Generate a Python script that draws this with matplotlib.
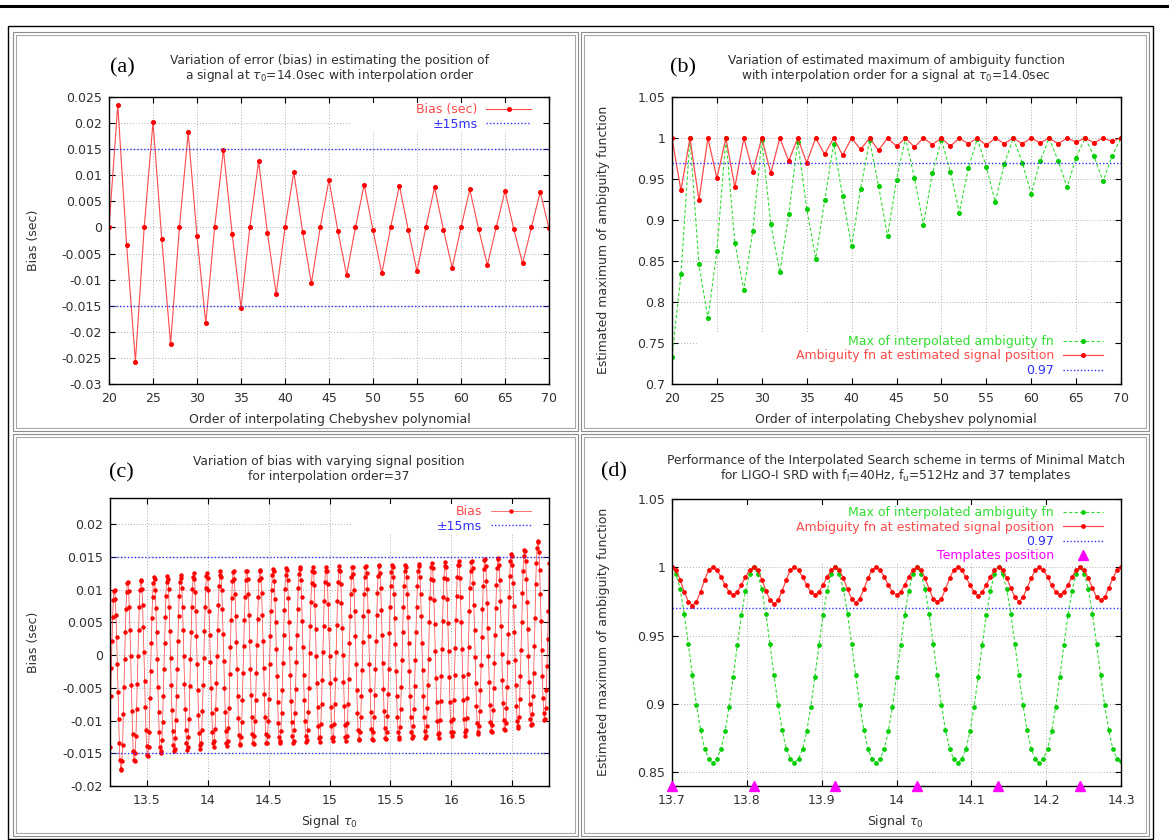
import numpy as np
import matplotlib
matplotlib.use("Agg")
import matplotlib.pyplot as plt
from matplotlib.lines import Line2D
from matplotlib.patches import Rectangle
from matplotlib.ticker import MultipleLocator, FuncFormatter

W, H = 1169, 840

# ── (a) bias vs interpolation order, signal at tau0 = 14.0 s ───────────────
orders = list(range(20, 71))
a_bias = [0.0, 0.0235, -0.0033, -0.0257, 0.0, 0.0202, -0.0023, -0.0223,
          0.0, 0.0182, -0.0017, -0.0184, 0.0, 0.0149, -0.0013, -0.0154,
          0.0, 0.0127, -0.0010, -0.0128, 0.0, 0.0106, -0.0008, -0.0107,
          0.0, 0.0091, -0.0006, -0.0091, 0.0, 0.0082, -0.0005, -0.0088,
          0.0, 0.0080, -0.0004, -0.0084, 0.0, 0.0077, -0.0004, -0.0077,
          0.0, 0.0073, -0.0003, -0.0072, 0.0, 0.0070, -0.0003, -0.0069,
          0.0, 0.0068, -0.0002]

# ── (b) estimated maximum of ambiguity fn vs order ─────────────────────────
b_max_interp = [0.733, 0.834, 1.000, 0.846, 0.780, 0.862, 1.000, 0.872,
                0.815, 0.887, 0.998, 0.895, 0.836, 0.907, 0.995, 0.914,
                0.853, 0.924, 0.993, 0.929, 0.868, 0.938, 0.997, 0.942,
                0.880, 0.949, 1.000, 0.951, 0.894, 0.957, 0.998, 0.959,
                0.909, 0.963, 0.999, 0.965, 0.922, 0.968, 1.000, 0.970,
                0.932, 0.972, 1.000, 0.972, 0.940, 0.976, 1.000, 0.978,
                0.947, 0.978, 1.000]
b_at_estimate = [1.000, 0.936, 1.000, 0.924, 1.000, 0.951, 1.000, 0.940,
                 1.000, 0.959, 1.000, 0.957, 1.000, 0.972, 1.000, 0.970,
                 1.000, 0.980, 1.000, 0.979, 1.000, 0.986, 1.000, 0.985,
                 1.000, 0.990, 1.000, 0.989, 1.000, 0.992, 1.000, 0.990,
                 1.000, 0.993, 1.000, 0.991, 1.000, 0.993, 1.000, 0.993,
                 1.000, 0.994, 1.000, 0.993, 1.000, 0.995, 1.000, 0.994,
                 1.000, 0.996, 1.000]

# ── (c) bias vs signal position, order 37 (values in ms, 20 per template) ──
c_tau = np.linspace(13.2, 16.8, 661)
c_bias_ms = [
    -14.0, -6.2, -1.9, 2.2, 5.8, 8.4, 9.8, 9.9, 8.6, 6.1, 2.7, -1.4, -5.7, -9.8, -13.4, -16.0, -17.4, -17.5, -16.2, -13.7,
    -9.0, -4.9, -0.6, 3.5, 7.0, 9.6, 11.0, 11.1, 9.8, 7.3, 3.9, -0.2, -4.5, -8.6, -12.1, -14.7, -16.1, -16.2, -14.9, -12.4,
    -8.3, -4.4, -0.1, 3.9, 7.4, 9.9, 11.3, 11.4, 10.1, 7.7, 4.3, 0.4, -3.9, -7.9, -11.4, -13.9, -15.3, -15.4, -14.1, -11.7,
    -6.6, -2.5, 1.8, 5.7, 8.8, 11.0, 12.0, 11.6, 10.0, 7.2, 3.6, -0.6, -4.8, -8.7, -11.8, -14.0, -15.0, -14.6, -13.0, -10.2,
    -6.3, -2.2, 1.9, 5.8, 9.0, 11.1, 12.1, 11.7, 10.1, 7.3, 3.7, -0.4, -4.5, -8.4, -11.6, -13.7, -14.7, -14.3, -12.7, -9.9,
    -6.2, -2.1, 2.1, 5.9, 9.1, 11.2, 12.2, 11.8, 10.2, 7.4, 3.9, -0.2, -4.4, -8.2, -11.4, -13.5, -14.5, -14.1, -12.5, -9.7,
    -4.7, -0.6, 3.6, 7.3, 10.1, 12.0, 12.5, 11.7, 9.7, 6.7, 2.9, -1.3, -5.4, -9.1, -11.9, -13.8, -14.3, -13.5, -11.5, -8.5,
    -4.5, -0.4, 3.7, 7.4, 10.3, 12.1, 12.6, 11.8, 9.9, 6.8, 3.1, -1.1, -5.1, -8.8, -11.7, -13.5, -14.0, -13.2, -11.3, -8.2,
    -4.3, -0.2, 3.9, 7.6, 10.5, 12.3, 12.8, 12.0, 10.0, 7.0, 3.2, -0.9, -5.0, -8.7, -11.6, -13.4, -13.9, -13.1, -11.1, -8.1,
    -2.9, 1.3, 5.3, 8.7, 11.3, 12.7, 12.8, 11.6, 9.3, 6.0, 2.0, -2.2, -6.2, -9.6, -12.2, -13.6, -13.7, -12.5, -10.2, -6.9,
    -2.8, 1.4, 5.4, 8.8, 11.4, 12.8, 12.9, 11.7, 9.4, 6.1, 2.1, -2.1, -6.1, -9.5, -12.1, -13.5, -13.6, -12.4, -10.1, -6.8,
    -2.7, 1.5, 5.5, 8.9, 11.5, 12.9, 13.0, 11.8, 9.5, 6.2, 2.2, -2.0, -6.0, -9.4, -12.0, -13.4, -13.5, -12.3, -10.0, -6.7,
    -1.3, 2.9, 6.8, 10.0, 12.2, 13.2, 12.9, 11.3, 8.6, 5.0, 1.0, -3.2, -7.1, -10.3, -12.5, -13.5, -13.2, -11.6, -8.9, -5.3,
    -1.2, 3.0, 6.9, 10.1, 12.3, 13.3, 13.0, 11.4, 8.7, 5.1, 1.1, -3.1, -7.0, -10.2, -12.4, -13.4, -13.1, -11.5, -8.8, -5.2,
    -1.1, 3.1, 7.0, 10.2, 12.4, 13.4, 13.1, 11.5, 8.8, 5.2, 1.2, -3.0, -6.9, -10.1, -12.3, -13.3, -13.0, -11.4, -8.7, -5.1,
    0.3, 4.4, 8.1, 11.0, 12.8, 13.4, 12.7, 10.7, 7.7, 4.0, -0.2, -4.3, -8.0, -10.9, -12.7, -13.3, -12.5, -10.5, -7.5, -3.8,
    0.4, 4.5, 8.2, 11.1, 12.9, 13.5, 12.8, 10.8, 7.8, 4.0, -0.1, -4.2, -7.9, -10.8, -12.6, -13.2, -12.5, -10.5, -7.5, -3.7,
    0.5, 4.6, 8.3, 11.2, 13.0, 13.6, 12.9, 10.9, 7.9, 4.1, 0.0, -4.1, -7.8, -10.7, -12.5, -13.1, -12.4, -10.4, -7.4, -3.6,
    1.9, 5.9, 9.4, 11.9, 13.4, 13.5, 12.4, 10.0, 6.8, 2.9, -1.3, -5.3, -8.8, -11.4, -12.8, -13.0, -11.8, -9.5, -6.2, -2.3,
    2.0, 6.0, 9.4, 12.0, 13.5, 13.6, 12.5, 10.1, 6.8, 2.9, -1.3, -5.3, -8.7, -11.3, -12.8, -12.9, -11.8, -9.4, -6.1, -2.2,
    2.1, 6.1, 9.5, 12.1, 13.6, 13.7, 12.6, 10.2, 6.9, 3.0, -1.2, -5.2, -8.6, -11.2, -12.7, -12.8, -11.7, -9.3, -6.0, -2.1,
    3.4, 7.3, 10.5, 12.7, 13.8, 13.5, 11.9, 9.3, 5.7, 1.7, -2.5, -6.3, -9.5, -11.8, -12.8, -12.5, -11.0, -8.3, -4.8, -0.7,
    3.5, 7.4, 10.6, 12.8, 13.8, 13.5, 12.0, 9.3, 5.8, 1.8, -2.4, -6.3, -9.5, -11.7, -12.7, -12.4, -10.9, -8.2, -4.7, -0.7,
    3.6, 7.4, 10.6, 12.8, 13.9, 13.6, 12.0, 9.4, 5.9, 1.8, -2.3, -6.2, -9.4, -11.6, -12.6, -12.3, -10.8, -8.1, -4.6, -0.6,
    5.0, 8.7, 11.6, 13.4, 14.0, 13.3, 11.4, 8.4, 4.7, 0.6, -3.5, -7.2, -10.1, -12.0, -12.6, -11.9, -9.9, -7.0, -3.2, 0.9,
    5.2, 8.9, 11.8, 13.6, 14.2, 13.5, 11.6, 8.6, 4.9, 0.7, -3.4, -7.1, -10.0, -11.8, -12.4, -11.7, -9.8, -6.8, -3.1, 1.1,
    5.4, 9.1, 12.0, 13.8, 14.4, 13.7, 11.8, 8.8, 5.0, 0.9, -3.2, -6.9, -9.8, -11.7, -12.3, -11.5, -9.6, -6.6, -2.9, 1.2,
    6.7, 10.2, 12.8, 14.2, 14.4, 13.3, 11.0, 7.7, 3.9, -0.3, -4.3, -7.8, -10.4, -11.8, -12.0, -10.9, -8.6, -5.3, -1.5, 2.7,
    7.0, 10.5, 13.1, 14.5, 14.7, 13.6, 11.3, 8.0, 4.1, -0.1, -4.1, -7.6, -10.2, -11.6, -11.8, -10.7, -8.4, -5.1, -1.2, 3.0,
    7.2, 10.7, 13.3, 14.7, 14.9, 13.8, 11.5, 8.2, 4.4, 0.2, -3.8, -7.3, -9.9, -11.3, -11.5, -10.4, -8.1, -4.8, -1.0, 3.2,
    8.9, 12.1, 14.4, 15.4, 15.2, 13.7, 11.0, 7.5, 3.5, -0.7, -4.6, -7.8, -10.1, -11.1, -10.9, -9.4, -6.7, -3.2, 0.8, 5.0,
    9.5, 12.8, 15.1, 16.1, 15.9, 14.4, 11.7, 8.1, 4.0, -0.2, -4.1, -7.4, -9.7, -10.7, -10.5, -9.0, -6.3, -2.7, 1.4, 5.6,
    10.8, 14.1, 16.4, 17.5, 17.3, 15.7, 13.0, 9.3, 5.2, 0.8, -3.2, -6.5, -8.8, -9.9, -9.7, -8.1, -5.4, -1.7, 2.5, 6.8,
    14.0,
]
c_bias = np.array(c_bias_ms) / 1000.0

# ── (d) minimal-match performance, 37 templates ────────────────────────────
d_tau = np.linspace(13.7, 14.3, 111)
d_max_interp = [
    1.000, 0.995, 0.984, 0.966, 0.944, 0.921, 0.899, 0.881, 0.867, 0.860,
    0.857, 0.860, 0.867, 0.880, 0.898, 0.920, 0.943, 0.965, 0.983, 0.995,
    1.000, 0.995, 0.984, 0.966, 0.944, 0.921, 0.899, 0.881, 0.867, 0.860,
    0.857, 0.860, 0.867, 0.880, 0.898, 0.920, 0.943, 0.965, 0.983, 0.995,
    1.000, 0.995, 0.984, 0.966, 0.944, 0.921, 0.899, 0.881, 0.867, 0.860,
    0.857, 0.860, 0.867, 0.880, 0.898, 0.920, 0.943, 0.965, 0.983, 0.995,
    1.000, 0.995, 0.984, 0.966, 0.944, 0.921, 0.899, 0.881, 0.867, 0.860,
    0.857, 0.860, 0.867, 0.880, 0.898, 0.920, 0.943, 0.965, 0.983, 0.995,
    1.000, 0.995, 0.984, 0.966, 0.944, 0.921, 0.899, 0.881, 0.867, 0.860,
    0.857, 0.860, 0.867, 0.880, 0.898, 0.920, 0.943, 0.965, 0.983, 0.995,
    1.000, 0.995, 0.984, 0.966, 0.944, 0.921, 0.899, 0.881, 0.867, 0.860,
    0.858,
]
d_at_estimate = [
    1.000, 0.998, 0.991, 0.982, 0.975, 0.972, 0.975, 0.982, 0.991, 0.998,
    1.000, 0.998, 0.993, 0.987, 0.982, 0.980, 0.982, 0.987, 0.993, 0.998,
    1.000, 0.998, 0.991, 0.983, 0.976, 0.973, 0.976, 0.983, 0.991, 0.998,
    1.000, 0.998, 0.993, 0.987, 0.982, 0.980, 0.982, 0.987, 0.993, 0.998,
    1.000, 0.998, 0.992, 0.984, 0.977, 0.974, 0.977, 0.984, 0.992, 0.998,
    1.000, 0.998, 0.993, 0.987, 0.982, 0.980, 0.982, 0.987, 0.993, 0.998,
    1.000, 0.998, 0.992, 0.984, 0.977, 0.975, 0.977, 0.984, 0.992, 0.998,
    1.000, 0.998, 0.993, 0.987, 0.982, 0.979, 0.982, 0.987, 0.993, 0.998,
    1.000, 0.998, 0.992, 0.985, 0.978, 0.975, 0.978, 0.985, 0.992, 0.998,
    1.000, 0.998, 0.993, 0.987, 0.982, 0.980, 0.982, 0.987, 0.993, 0.998,
    1.000, 0.998, 0.992, 0.985, 0.978, 0.976, 0.978, 0.985, 0.992, 0.998,
    1.000,
]
template_tau = [13.700, 13.809, 13.918, 14.027, 14.136, 14.245]
template_y = [0.84, 0.84, 0.84, 0.84, 0.84, 0.84]

threshold_bias = 0.015
threshold_match = 0.97

# ── style ──────────────────────────────────────────────────────────────────
plt.rcParams["font.family"] = ["DejaVu Sans"]
plt.rcParams["font.size"] = 9
plt.rcParams["mathtext.fontset"] = "dejavusans"

RED_LINE = "#ff4a4a"
RED = "#ff0000"
GREEN_LINE = "#33dd33"
GREEN = "#00cc00"
BLUE = "#3030ff"
MAGENTA = "#ff00ff"
GRID = "#b0b0b0"
TXT = "#303030"
FS = 9

fig = plt.figure(figsize=(W / 100, H / 100), dpi=100)


def fx(x):
    return x / W


def fy(y):
    return 1 - y / H


def ftext(x, y, s, **kw):
    kw.setdefault("color", TXT)
    kw.setdefault("fontsize", FS)
    fig.text(fx(x), fy(y), s, ha=kw.pop("ha", "center"),
             va=kw.pop("va", "center"), **kw)


# page decorations: top rule, outer frame, grey double panel borders
fig.add_artist(Line2D([0, 1], [fy(5.5), fy(5.5)], color="black", lw=2.2,
                      transform=fig.transFigure))
fig.add_artist(Rectangle((fx(7.5), fy(839)), fx(1153) - fx(7.5),
                         fy(25.5) - fy(839), fill=False, ec="black", lw=1.0,
                         transform=fig.transFigure))
panels = [(13, 32, 578, 431), (581, 32, 1149, 431),
          (13, 434, 578, 836), (581, 434, 1149, 836)]
for (l, t, r, b) in panels:
    for off, col in [(0, "#8c8c8c"), (3, "#a8a8a8")]:
        fig.add_artist(Rectangle((fx(l + off), fy(b - off)),
                                 fx(r - off) - fx(l + off),
                                 fy(t + off) - fy(b - off), fill=False,
                                 ec=col, lw=0.8, transform=fig.transFigure))


def make_axes(l, t, r, b):
    return fig.add_axes([fx(l), fy(b), fx(r) - fx(l), fy(t) - fy(b)])


def setup(ax, xlim, ylim, xstep, ystep):
    ax.set_xlim(*xlim)
    ax.set_ylim(*ylim)
    ax.xaxis.set_major_locator(MultipleLocator(xstep))
    ax.yaxis.set_major_locator(MultipleLocator(ystep))
    fmt = FuncFormatter(lambda v, p: f"{v:g}" if abs(v) > 1e-9 else "0")
    ax.xaxis.set_major_formatter(fmt)
    ax.yaxis.set_major_formatter(fmt)
    ax.tick_params(direction="in", top=True, right=True, length=4, width=0.8,
                   labelsize=FS, labelcolor=TXT)
    ax.tick_params(axis="x", pad=6)
    ax.tick_params(axis="y", pad=5)
    ax.grid(True, color=GRID, ls=(0, (1, 2)), lw=0.7)
    for s in ax.spines.values():
        s.set_linewidth(1.0)


def blank(ax, x0, y0, x1, y1):
    # gnuplot clears the grid under the key box
    ax.add_patch(Rectangle((x0, y0), x1 - x0, y1 - y0, transform=ax.transAxes,
                           fc="white", ec="none", zorder=1.8))


def key(ax, x, y, hl):
    ax.legend(loc="upper right", bbox_to_anchor=(fx(x), fy(y)),
              bbox_transform=fig.transFigure, markerfirst=False,
              frameon=False, fontsize=FS, handlelength=hl,
              handletextpad=0.7, labelspacing=0.12, borderpad=0,
              borderaxespad=0, numpoints=1, labelcolor="linecolor")


dot = (0, (1, 1.5))
dash = (0, (3, 2))

# ── (a) ────────────────────────────────────────────────────────────────────
ax = make_axes(109, 97, 549, 384)
setup(ax, (20, 70), (-0.03, 0.025), 5, 0.005)
blank(ax, 0.55, 0.878, 0.986, 0.979)
ax.plot(orders, a_bias, color=RED_LINE, lw=0.8, marker="o", ms=2.6,
        mfc=RED, mec=RED, label="Bias (sec)")
ax.axhline(threshold_bias, color=BLUE, ls=dot, lw=1.0, label="±15ms")
ax.axhline(-threshold_bias, color=BLUE, ls=dot, lw=1.0)
key(ax, 531, 103, 3.6)

# ── (b) ────────────────────────────────────────────────────────────────────
ax = make_axes(672, 97, 1121, 384)
setup(ax, (20, 70), (0.7, 1.05), 5, 0.05)
blank(ax, 0.058, 0.021, 0.987, 0.178)
ax.plot(orders, b_max_interp, color=GREEN_LINE, ls=dash, lw=0.8, marker="o",
        ms=2.6, mfc=GREEN, mec=GREEN, label="Max of interpolated ambiguity fn")
ax.plot(orders, b_at_estimate, color=RED_LINE, lw=0.9, marker="o", ms=2.6,
        mfc=RED, mec=RED, label="Ambiguity fn at estimated signal position")
ax.axhline(threshold_match, color=BLUE, ls=dot, lw=1.0, label="0.97")
key(ax, 1103, 335, 3.2)

# ── (c) ────────────────────────────────────────────────────────────────────
ax = make_axes(110, 498, 549, 786)
setup(ax, (13.2, 16.8), (-0.02, 0.024), 0.5, 0.005)
blank(ax, 0.549, 0.878, 0.986, 0.979)
ax.plot(c_tau, c_bias, color=RED_LINE, lw=0.55, marker="o", ms=2.2,
        mfc=RED, mec=RED, label="Bias")
ax.axhline(threshold_bias, color=BLUE, ls=dot, lw=1.0, label="±15ms")
ax.axhline(-threshold_bias, color=BLUE, ls=dot, lw=1.0)
key(ax, 531, 505, 3.2)

# ── (d) ────────────────────────────────────────────────────────────────────
ax = make_axes(672, 499, 1121, 786)
setup(ax, (13.7, 14.3), (0.84, 1.05), 0.1, 0.05)
blank(ax, 0.058, 0.777, 0.987, 0.979)
ax.plot(d_tau, d_max_interp, color=GREEN_LINE, ls=dash, lw=0.8, marker="o",
        ms=2.4, mfc=GREEN, mec=GREEN, label="Max of interpolated ambiguity fn")
ax.plot(d_tau, d_at_estimate, color=RED_LINE, lw=0.9, marker="o", ms=2.4,
        mfc=RED, mec=RED, label="Ambiguity fn at estimated signal position")
ax.axhline(threshold_match, color=BLUE, ls=dot, lw=1.0, label="0.97")
ax.plot(template_tau, template_y, ls="none", marker="^", ms=7, color=MAGENTA,
        clip_on=False, zorder=5, label="Templates position")
key(ax, 1103, 506, 3.2)

# ── titles, panel letters, axis labels ─────────────────────────────────────
titles = [
    (330, ["Variation of error (bias) in estimating the position of",
           r"a signal at $\tau_0$=14.0sec with interpolation order"]),
    (896, ["Variation of estimated maximum of ambiguity function",
           r"with interpolation order for a signal at $\tau_0$=14.0sec"]),
    (329, ["Variation of bias with varying signal position",
           "for interpolation order=37"]),
    (896, ["Performance of the Interpolated Search scheme in terms of Minimal Match",
           r"for LIGO-I SRD with $\mathrm{f_l}$=40Hz, $\mathrm{f_u}$=512Hz and 37 templates"]),
]
title_y = [(60.5, 75), (60.5, 75), (461.5, 476.5), (460.5, 475.5)]
for (cx, lines), ys in zip(titles, title_y):
    for s, y in zip(lines, ys):
        ftext(cx, y, s, fontsize=8.8)

for s, x, y in [("(a)", 110, 68), ("(b)", 670, 68),
                ("(c)", 109, 473), ("(d)", 601, 472)]:
    ftext(x, y, s, ha="left", fontsize=16, color="black",
          family=["Liberation Serif", "DejaVu Serif"])

ftext(34, 240, "Bias (sec)", rotation=90)
ftext(604, 240, "Estimated maximum of ambiguity function", rotation=90)
ftext(34, 642, "Bias (sec)", rotation=90)
ftext(604, 642, "Estimated maximum of ambiguity function", rotation=90)
ftext(330, 420, "Order of interpolating Chebyshev polynomial")
ftext(896, 420, "Order of interpolating Chebyshev polynomial")
ftext(329, 822, r"Signal $\tau_0$")
ftext(895, 822, r"Signal $\tau_0$")

fig.savefig("out.png", dpi=100)
